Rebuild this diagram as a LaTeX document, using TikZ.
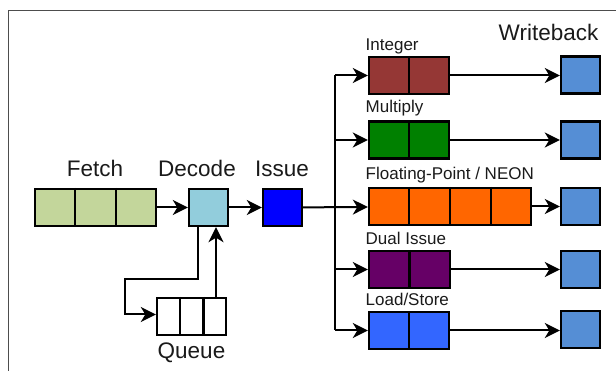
\documentclass[tikz,border=0pt]{standalone}
\usepackage{fontspec}
\setmainfont{Liberation Sans}
\usetikzlibrary{calc,arrows.meta}

\definecolor{fetchgreen}{HTML}{C3D69B}
\definecolor{decodeblue}{HTML}{92CDDC}
\definecolor{issueblue}{HTML}{0000FF}
\definecolor{intred}{HTML}{953735}
\definecolor{mulgreen}{HTML}{008000}
\definecolor{fporange}{HTML}{FF6600}
\definecolor{dualpurple}{HTML}{660066}
\definecolor{lsblue}{HTML}{3366FF}
\definecolor{wbblue}{HTML}{558ED5}
\definecolor{framegray}{HTML}{4D4D4D}
\definecolor{textgray}{HTML}{1A1A1A}

\tikzset{
  stagebox/.style={draw=black, line width=2.4pt, rectangle, inner sep=0pt,
    minimum height=37pt, minimum width=39pt},
  cellline/.style={black, line width=2.2pt},
  flow/.style={line width=2pt, -{Stealth[length=15pt, width=15pt, inset=4.5pt]}},
  wire/.style={line width=2pt},
  biglabel/.style={anchor=base, inner sep=0pt, text=textgray,
    font=\fontsize{22.5}{26}\selectfont},
  unitlabel/.style={anchor=base west, inner sep=0pt, text=textgray,
    font=\fontsize{17}{20}\selectfont},
}

% split a box into n equal cells
\newcommand{\cellsplit}[2]{%
  \foreach \k in {1,...,\numexpr#2-1\relax}{%
    \draw[cellline] ($(#1.north west)!\k/#2!(#1.north east)$) --
                    ($(#1.south west)!\k/#2!(#1.south east)$);
  }%
}

\begin{document}
\begin{tikzpicture}[x=1pt, y=-1pt]
  \useasboundingbox (0,0) rectangle (616,371);

  % frame
  \draw[framegray, line width=1.5pt] (8.7,371) -- (8.7,10.5) -- (616,10.5);

  % front end
  \node[stagebox, fill=fetchgreen, minimum width=121pt] (fetch) at (95.5,207.5) {};
  \cellsplit{fetch}{3}
  \node[stagebox, fill=decodeblue] (decode) at (208.5,207.5) {};
  \node[stagebox, fill=issueblue] (issue) at (282.5,207.5) {};
  \node[stagebox, fill=white, minimum width=69pt] (queue) at (191.5,316.5) {};
  \cellsplit{queue}{3}

  \node[biglabel] (lfetch) at (95,177) {Fetch};
  \node[biglabel] (ldecode) at (197,177) {Decode};
  \node[biglabel] (lissue) at (282,177) {Issue};
  \node[biglabel] (lqueue) at (191.5,359) {Queue};
  \node[biglabel] (lwb) at (548.5,41) {Writeback};

  % execution units
  \node[stagebox, fill=intred, minimum width=80pt] (int) at (409,75.5) {};
  \cellsplit{int}{2}
  \node[stagebox, fill=mulgreen, minimum width=80pt] (mul) at (409,140) {};
  \cellsplit{mul}{2}
  \node[stagebox, fill=fporange, minimum width=162pt] (fp) at (450,206.5) {};
  \cellsplit{fp}{4}
  \node[stagebox, fill=dualpurple, minimum width=81pt] (dual) at (409.5,269.5) {};
  \cellsplit{dual}{2}
  \node[stagebox, fill=lsblue, minimum width=80pt] (ls) at (409,330.5) {};
  \cellsplit{ls}{2}

  \node[unitlabel] (lint) at (365.5,50.5) {Integer};
  \node[unitlabel] (lmul) at (365.5,113) {Multiply};
  \node[unitlabel] (lfp) at (365.5,179.5) {Floating-Point / NEON};
  \node[unitlabel] (ldual) at (365.5,244.5) {Dual Issue};
  \node[unitlabel] (lls) at (365.5,306) {Load/Store};

  % writeback slots
  \node[stagebox, fill=wbblue] (wb1) at (580.5,75) {};
  \node[stagebox, fill=wbblue] (wb2) at (580.5,140) {};
  \node[stagebox, fill=wbblue] (wb3) at (580.5,206.5) {};
  \node[stagebox, fill=wbblue] (wb4) at (580.5,269.5) {};
  \node[stagebox, fill=wbblue] (wb5) at (580.5,329.5) {};

  % front-end flow
  \draw[flow] (fetch) -- (decode);
  \draw[flow] (decode) -- (issue);
  \coordinate (dq1) at (198,279);
  \coordinate (dq2) at (125,279);
  \coordinate (dq3) at (125,314.5);
  \draw[flow] (decode.south -| dq1) -- (dq1) -- (dq2) -- (dq3) -- (dq3 -| queue.west);
  \coordinate (qd) at (216,0);
  \draw[flow] (queue.north -| qd) -- (decode.south -| qd);

  % issue bus
  \coordinate (bus) at (335,0);
  \draw[wire] (bus |- int) -- (bus |- ls);
  \draw[flow] (issue) -- (fp);
  \draw[flow] (bus |- int) -- (int);
  \draw[flow] (bus |- mul) -- (mul);
  \draw[flow] (bus |- dual) -- (dual);
  \draw[flow] (bus |- ls) -- (ls);

  % to writeback
  \draw[flow] (int) -- (int -| wb1.west);
  \draw[flow] (mul) -- (mul -| wb2.west);
  \draw[flow] (fp) -- (fp -| wb3.west);
  \draw[flow] (dual) -- (dual -| wb4.west);
  \draw[flow] (ls) -- (ls -| wb5.west);
\end{tikzpicture}
\end{document}
